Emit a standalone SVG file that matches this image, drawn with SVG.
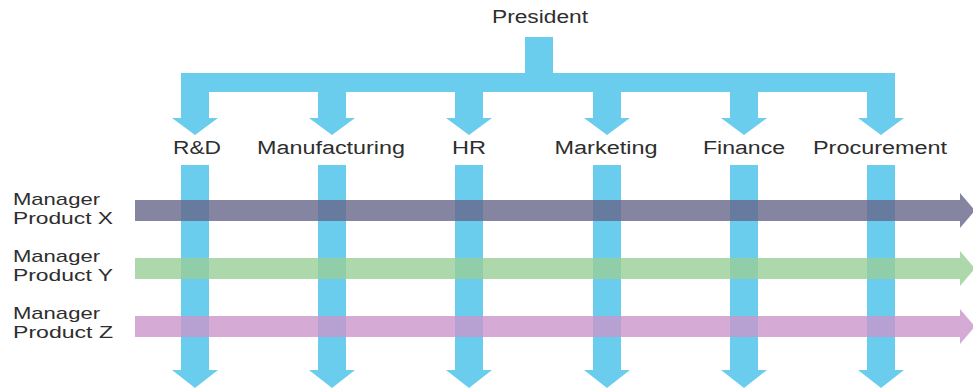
<svg xmlns="http://www.w3.org/2000/svg" width="973" height="392" viewBox="0 0 973 392">
<style>
  text { font-family: "Liberation Sans", Arial, sans-serif; font-size: 18px; fill: #2e2e2e; }
  .m { font-size: 17px; }
  .c { text-anchor: middle; }
  .blue { fill: #6BCDEE; }
  .px { fill: #67668A; opacity: 0.8; }
  .py { fill: #98CE97; opacity: 0.8; }
  .pz { fill: #CB96CB; opacity: 0.8; }
</style>
<rect width="973" height="392" fill="#ffffff"/>
<g id="connectors">
  <rect class="blue" x="525" y="37" width="28" height="40"/>
  <rect class="blue" x="181" y="73" width="714" height="19"/>
  <g id="top-arrows">
    <path class="blue" d="M181 90 H209 V118 H218 L195 135 L172 118 H181 Z"/>
    <path class="blue" d="M318 90 H346 V118 H355 L332 135 L309 118 H318 Z"/>
    <path class="blue" d="M455 90 H483 V118 H492 L469 135 L446 118 H455 Z"/>
    <path class="blue" d="M593 90 H621 V118 H630 L607 135 L584 118 H593 Z"/>
    <path class="blue" d="M730 90 H758 V118 H767 L744 135 L721 118 H730 Z"/>
    <path class="blue" d="M867 90 H895 V118 H904 L881 135 L858 118 H867 Z"/>
  </g>
  <g id="down-arrows">
    <path class="blue" d="M181 165 H209 V370 H218 L195 388 L172 370 H181 Z"/>
    <path class="blue" d="M318 165 H346 V370 H355 L332 388 L309 370 H318 Z"/>
    <path class="blue" d="M455 165 H483 V370 H492 L469 388 L446 370 H455 Z"/>
    <path class="blue" d="M593 165 H621 V370 H630 L607 388 L584 370 H593 Z"/>
    <path class="blue" d="M730 165 H758 V370 H767 L744 388 L721 370 H730 Z"/>
    <path class="blue" d="M867 165 H895 V370 H904 L881 388 L858 370 H867 Z"/>
  </g>
  <g id="product-arrows">
    <path class="px" d="M135 200 H960 V193 L975 210.5 L960 228 V221 H135 Z"/>
    <path class="py" d="M135 258 H960 V251 L975 268.5 L960 286 V279 H135 Z"/>
    <path class="pz" d="M135 316 H960 V309 L975 326.5 L960 344 V337 H135 Z"/>
  </g>
</g>
<g id="president"><text class="c" x="540" y="23" textLength="96" lengthAdjust="spacingAndGlyphs">President</text></g>
<g id="rnd"><text class="c" x="197" y="154" textLength="48" lengthAdjust="spacingAndGlyphs">R&amp;D</text></g>
<g id="manufacturing"><text class="c" x="331" y="154" textLength="148" lengthAdjust="spacingAndGlyphs">Manufacturing</text></g>
<g id="hr"><text class="c" x="469" y="154" textLength="34" lengthAdjust="spacingAndGlyphs">HR</text></g>
<g id="marketing"><text class="c" x="606" y="154" textLength="103" lengthAdjust="spacingAndGlyphs">Marketing</text></g>
<g id="finance"><text class="c" x="744" y="154" textLength="82" lengthAdjust="spacingAndGlyphs">Finance</text></g>
<g id="procurement"><text class="c" x="880" y="154" textLength="134" lengthAdjust="spacingAndGlyphs">Procurement</text></g>
<g id="manager-x">
  <text class="m" x="13" y="205" textLength="87" lengthAdjust="spacingAndGlyphs">Manager</text>
  <text class="m" x="13" y="224" textLength="100" lengthAdjust="spacingAndGlyphs">Product X</text>
</g>
<g id="manager-y">
  <text class="m" x="13" y="262" textLength="87" lengthAdjust="spacingAndGlyphs">Manager</text>
  <text class="m" x="13" y="281" textLength="100" lengthAdjust="spacingAndGlyphs">Product Y</text>
</g>
<g id="manager-z">
  <text class="m" x="13" y="319" textLength="87" lengthAdjust="spacingAndGlyphs">Manager</text>
  <text class="m" x="13" y="338" textLength="100" lengthAdjust="spacingAndGlyphs">Product Z</text>
</g>
</svg>
